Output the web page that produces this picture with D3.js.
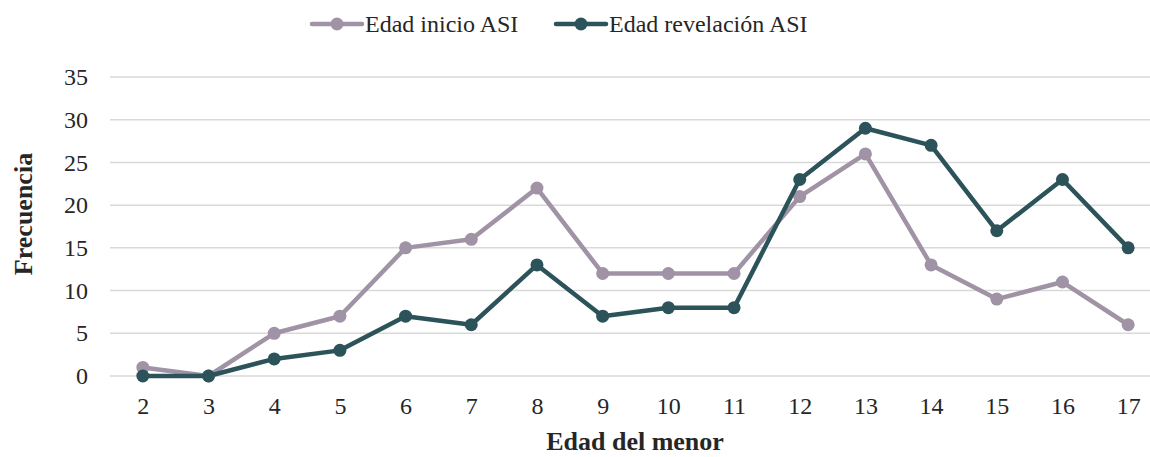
<!DOCTYPE html>
<html>
<head>
<meta charset="utf-8">
<script src="https://cdn.jsdelivr.net/npm/d3@7"></script>
<style>
  body { margin: 0; background: #fff; }
</style>
</head>
<body>
<div id="chart"></div>
<script>
// Data
var edades = ['2','3','4','5','6','7','8','9','10','11','12','13','14','15','16','17'];
var inicioASI = [1,0,5,7,15,16,22,12,12,12,21,26,13,9,11,6];
var revelacionASI = [0,0,2,3,7,6,13,7,8,8,23,29,27,17,23,15];
var yTicks = [0,5,10,15,20,25,30,35];

var width = 1150, height = 457;
var margin = {top:77, right:-11, left:110, bottom:81};
var drawWidth = width - margin.left - margin.right;
var drawHeight = height - margin.top - margin.bottom;
var fontFamily = 'Liberation Serif';

var series = [
    {name: 'Edad inicio ASI', values: inicioASI, color: '#A093A6'},
    {name: 'Edad revelación ASI', values: revelacionASI, color: '#2C525A'}
];

var svg = d3.select('#chart').append('svg')
    .attr('width', width)
    .attr('height', height)
    .style('font-family', fontFamily);

var g = svg.append('g')
    .attr('transform', 'translate(' + margin.left + ',' + margin.top + ')');

var xScale = d3.scalePoint().domain(edades).range([0, drawWidth]).padding(0.5);
var yScale = d3.scaleLinear().domain([0, 35]).range([drawHeight, 0]);

// Gridlines
g.selectAll('.grid').data(yTicks).enter().append('line')
    .attr('class', 'grid')
    .attr('x1', 0).attr('x2', drawWidth)
    .attr('y1', function(d) { return yScale(d); })
    .attr('y2', function(d) { return yScale(d); })
    .attr('stroke', '#d9d9d9')
    .attr('stroke-width', 1.5);

// Y axis labels
var yAxis = d3.axisLeft(yScale).tickValues(yTicks).tickSize(0).tickPadding(22);
g.append('g').attr('class', 'y-axis').call(yAxis)
    .call(function(s) { s.select('.domain').remove(); })
    .selectAll('text')
    .style('font-family', fontFamily).style('font-size', '24px').style('fill', '#262626');

// X axis labels
var xAxis = d3.axisBottom(xScale).tickSize(0).tickPadding(21);
g.append('g').attr('class', 'x-axis')
    .attr('transform', 'translate(0,' + drawHeight + ')')
    .call(xAxis)
    .call(function(s) { s.select('.domain').remove(); })
    .selectAll('text')
    .style('font-family', fontFamily).style('font-size', '24px').style('fill', '#262626');

// Axis titles
svg.append('text')
    .attr('x', 635)
    .attr('y', 450)
    .attr('text-anchor', 'middle')
    .style('font-family', fontFamily)
    .style('font-size', '26px')
    .style('font-weight', 'bold')
    .style('fill', '#262626')
    .text('Edad del menor');

svg.append('text')
    .attr('transform', 'translate(32,214) rotate(-90)')
    .attr('text-anchor', 'middle')
    .style('font-family', fontFamily)
    .style('font-size', '26px')
    .style('font-weight', 'bold')
    .style('fill', '#262626')
    .text('Frecuencia');

// Lines and markers
var line = d3.line()
    .x(function(d, i) { return xScale(edades[i]); })
    .y(function(d) { return yScale(d); });

series.forEach(function(s) {
    g.append('path')
        .attr('d', line(s.values))
        .attr('fill', 'none')
        .attr('stroke', s.color)
        .attr('stroke-width', 4.5)
        .attr('stroke-linejoin', 'round');
    g.selectAll(null).data(s.values).enter().append('circle')
        .attr('cx', function(d, i) { return xScale(edades[i]); })
        .attr('cy', function(d) { return yScale(d); })
        .attr('r', 6.5)
        .attr('fill', s.color);
});

// Legend
var legendX = [312, 556];
series.forEach(function(s, i) {
    var lg = svg.append('g').attr('transform', 'translate(' + legendX[i] + ',24)');
    lg.append('line').attr('x1', 0).attr('x2', 50).attr('y1', 0).attr('y2', 0)
        .attr('stroke', s.color).attr('stroke-width', 4.5).attr('stroke-linecap', 'round');
    lg.append('circle').attr('cx', 25).attr('cy', 0).attr('r', 6.5).attr('fill', s.color);
    lg.append('text').attr('x', 53).attr('y', 8)
        .style('font-family', fontFamily).style('font-size', '24px').style('fill', '#262626')
        .text(s.name);
});
</script>
</body>
</html>
